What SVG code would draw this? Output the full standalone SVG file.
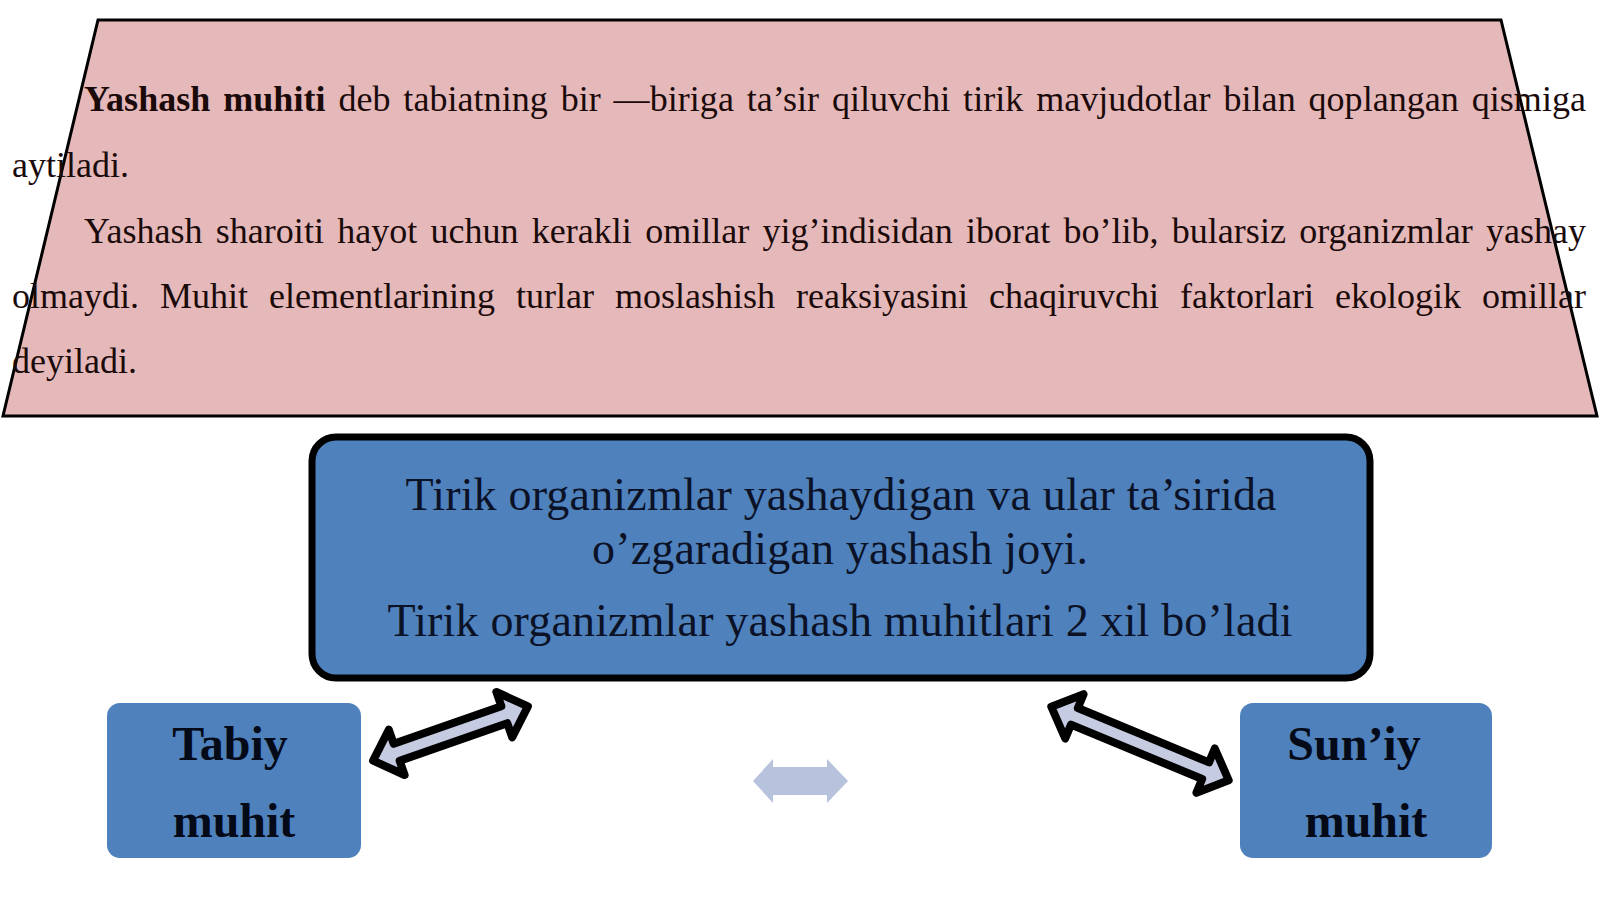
<svg xmlns="http://www.w3.org/2000/svg" width="1600" height="899" viewBox="0 0 1600 899">
  <style>
    .para { font-family: "Liberation Serif", "Times New Roman", serif; font-size: 36px; fill: #1a0a0a; }
    .boxtxt { font-family: "Liberation Serif", "Times New Roman", serif; font-size: 46px; fill: #0b1226; text-anchor: middle; }
    .label { font-family: "Liberation Serif", "Times New Roman", serif; font-size: 48px; font-weight: bold; fill: #050a18; text-anchor: middle; }
    .blue { fill: #4F81BD; }
    .dbl { fill: #C5CCE2; stroke: #000; stroke-width: 8; stroke-linejoin: round; }
  </style>
  <rect width="1600" height="899" fill="#ffffff"/>

  <g id="definition">
    <polygon points="98,20 1501,20 1597,416 3,416" fill="#E5B8B9" stroke="#000" stroke-width="3"/>
    <text class="para" x="84" y="111" word-spacing="3.8" textLength="1502" lengthAdjust="spacing"><tspan font-weight="bold">Yashash muhiti</tspan> deb tabiatning bir —biriga ta’sir qiluvchi tirik mavjudotlar bilan qoplangan qismiga</text>
    <text class="para" x="12" y="177">aytiladi.</text>
    <text class="para" x="84" y="243" word-spacing="4.2" textLength="1502" lengthAdjust="spacing">Yashash sharoiti hayot uchun kerakli omillar yig’indisidan iborat bo’lib, bularsiz organizmlar yashay</text>
    <text class="para" x="12" y="308" word-spacing="12" textLength="1574" lengthAdjust="spacing">olmaydi. Muhit elementlarining turlar moslashish reaksiyasini chaqiruvchi faktorlari ekologik omillar</text>
    <text class="para" x="12" y="373">deyiladi.</text>
  </g>

  <g id="main-box">
    <rect x="312" y="437" width="1058" height="241" rx="24" ry="24" class="blue" stroke="#000" stroke-width="7"/>
    <text class="boxtxt" x="841" y="510" textLength="871" lengthAdjust="spacing">Tirik organizmlar yashaydigan va ular ta’sirida</text>
    <text class="boxtxt" x="840" y="564" textLength="496" lengthAdjust="spacing">o’zgaradigan yashash joyi.</text>
    <text class="boxtxt" x="840" y="636" textLength="905" lengthAdjust="spacing">Tirik organizmlar yashash muhitlari 2 xil bo’ladi</text>
  </g>

  <g id="tabiy">
    <rect x="107" y="703" width="254" height="155" rx="13" ry="13" class="blue"/>
    <text class="label" x="230" y="760">Tabiy</text>
    <text class="label" x="234" y="837">muhit</text>
  </g>

  <g id="suniy">
    <rect x="1240" y="703" width="252" height="155" rx="13" ry="13" class="blue"/>
    <text class="label" x="1354" y="760">Sun’iy</text>
    <text class="label" x="1366" y="837">muhit</text>
  </g>

  <g id="connectors">
    <g transform="translate(450.5,733.5) rotate(-19.3)">
      <polygon class="dbl" points="-82,0 -57,-24 -57,-9 57,-9 57,-24 82,0 57,24 57,9 -57,9 -57,24"/>
    </g>
    <g transform="translate(1140,743.5) rotate(22.5)">
      <polygon class="dbl" points="-96,0 -71,-24 -71,-9 71,-9 71,-24 96,0 71,24 71,9 -71,9 -71,24"/>
    </g>
    <polygon points="753,781 773,759 773,767 827,767 827,759 848,781 827,803 827,795 773,795 773,803" fill="#B7C3DC"/>
  </g>
</svg>
